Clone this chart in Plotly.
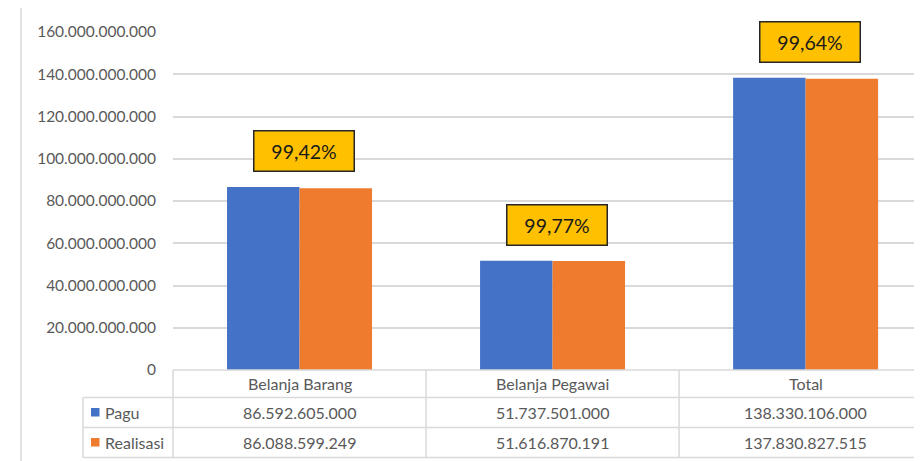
import plotly.graph_objects as go

categories = ["Belanja Barang", "Belanja Pegawai", "Total"]
series_names = ["Pagu", "Realisasi"]
pagu = [86592605000, 51737501000, 138330106000]
realisasi = [86088599249, 51616870191, 137830827515]
y_ticks = [0, 20e9, 40e9, 60e9, 80e9, 100e9, 120e9, 140e9, 160e9]

colors = ["#4472C6", "#EF7B2F"]
text_col = "#595959"
line_col = "#D9D9D9"
FONT = "Lato"

OFF = 8  # page body margin
W, H = 922 - OFF, 461 - OFF
L = 173 - OFF
T = 32 - OFF
B = H - (370 - OFF)
R = 0
plot_w = W - L - R
plot_h = H - T - B
x_lo, x_hi = -0.5, 2.46


def px_x(px):
    return (px - OFF - L) / plot_w


def px_y(py):
    return (H - B - (py - OFF)) / plot_h


def cat_paper(c):
    return (c - x_lo) / (x_hi - x_lo)


def fmt_num(v):
    return f"{v:,}".replace(",", ".")


fig = go.Figure()
for name, vals, col in zip(series_names, [pagu, realisasi], colors):
    fig.add_trace(go.Bar(
        x=list(range(len(categories))), y=vals, name=name,
        marker=dict(color=col, line=dict(width=0)),
        hoverinfo="skip",
    ))

shapes = []
annotations = []

# chart border on left
shapes.append(dict(type="line", xref="paper", yref="paper",
                   x0=px_x(21), x1=px_x(21), y0=px_y(8), y1=px_y(470),
                   line=dict(color=line_col, width=1.5)))

# table horizontal lines
right_p = cat_paper(2.5)
for py, xs in [(370, 173), (397.5, 83), (427.5, 83), (457.5, 83)]:
    shapes.append(dict(type="line", xref="paper", yref="paper",
                       x0=px_x(xs), x1=right_p, y0=px_y(py), y1=px_y(py),
                       line=dict(color=line_col, width=1.5)))
# table vertical lines
shapes.append(dict(type="line", xref="paper", yref="paper",
                   x0=px_x(83), x1=px_x(83), y0=px_y(397.5), y1=px_y(457.5),
                   line=dict(color=line_col, width=1.5)))
for i in range(len(categories) + 1):
    xp = cat_paper(i - 0.5)
    shapes.append(dict(type="line", xref="paper", yref="paper",
                       x0=xp, x1=xp, y0=px_y(370), y1=px_y(457.5),
                       line=dict(color=line_col, width=1.5)))

# header row
for i, c in enumerate(categories):
    annotations.append(dict(x=cat_paper(i), y=px_y(383.5), xref="paper", yref="paper",
                            text=c, showarrow=False, xanchor="center", yanchor="middle",
                            font=dict(family=FONT, size=16, color=text_col)))

# data rows
row_y = [412.5, 442.5]
for r, (name, vals, col) in enumerate(zip(series_names, [pagu, realisasi], colors)):
    yc = row_y[r]
    shapes.append(dict(type="rect", xref="paper", yref="paper",
                       x0=px_x(91), x1=px_x(99.5), y0=px_y(yc - 4.5), y1=px_y(yc + 4),
                       fillcolor=col, line=dict(width=0)))
    annotations.append(dict(x=px_x(103), y=px_y(yc), xref="paper", yref="paper",
                            text=name, showarrow=False, xanchor="left", yanchor="middle",
                            font=dict(family=FONT, size=16, color=text_col)))
    for i, v in enumerate(vals):
        annotations.append(dict(x=cat_paper(i), y=px_y(yc), xref="paper", yref="paper",
                                text=fmt_num(v), showarrow=False, xanchor="center",
                                yanchor="middle",
                                font=dict(family=FONT, size=16, color=text_col)))

# percentage boxes
for i, (p, r) in enumerate(zip(pagu, realisasi)):
    pct = f"{r / p * 100:.2f}".replace(".", ",") + "%"
    annotations.append(dict(x=i, y=p, xref="x", yref="y", text=pct, showarrow=False,
                            xanchor="center", yanchor="bottom", xshift=4, yshift=15,
                            width=97, height=37, borderpad=1, borderwidth=1.5,
                            bordercolor="#262626", bgcolor="#FFC000",
                            font=dict(family=FONT, size=19.5, color="#1a1a1a")))

fig.update_layout(
    width=W, height=H,
    margin=dict(l=L, r=R, t=T, b=B, pad=0),
    paper_bgcolor="white", plot_bgcolor="white",
    separators=",.",
    barmode="group", bargap=0.427, bargroupgap=0,
    showlegend=False,
    shapes=shapes, annotations=annotations,
    xaxis=dict(range=[x_lo, x_hi], showticklabels=False, showgrid=False,
               zeroline=False, showline=False, ticks=""),
    yaxis=dict(range=[0, 160e9], tickvals=y_ticks, tickformat=",d",
               showgrid=True, gridcolor=line_col, gridwidth=1.5,
               zeroline=False, showline=False, ticks="",
               ticklabelstandoff=16,
               tickfont=dict(family=FONT, size=15.5, color=text_col)),
    font=dict(family=FONT, color=text_col),
)

fig.write_html("out.html")
